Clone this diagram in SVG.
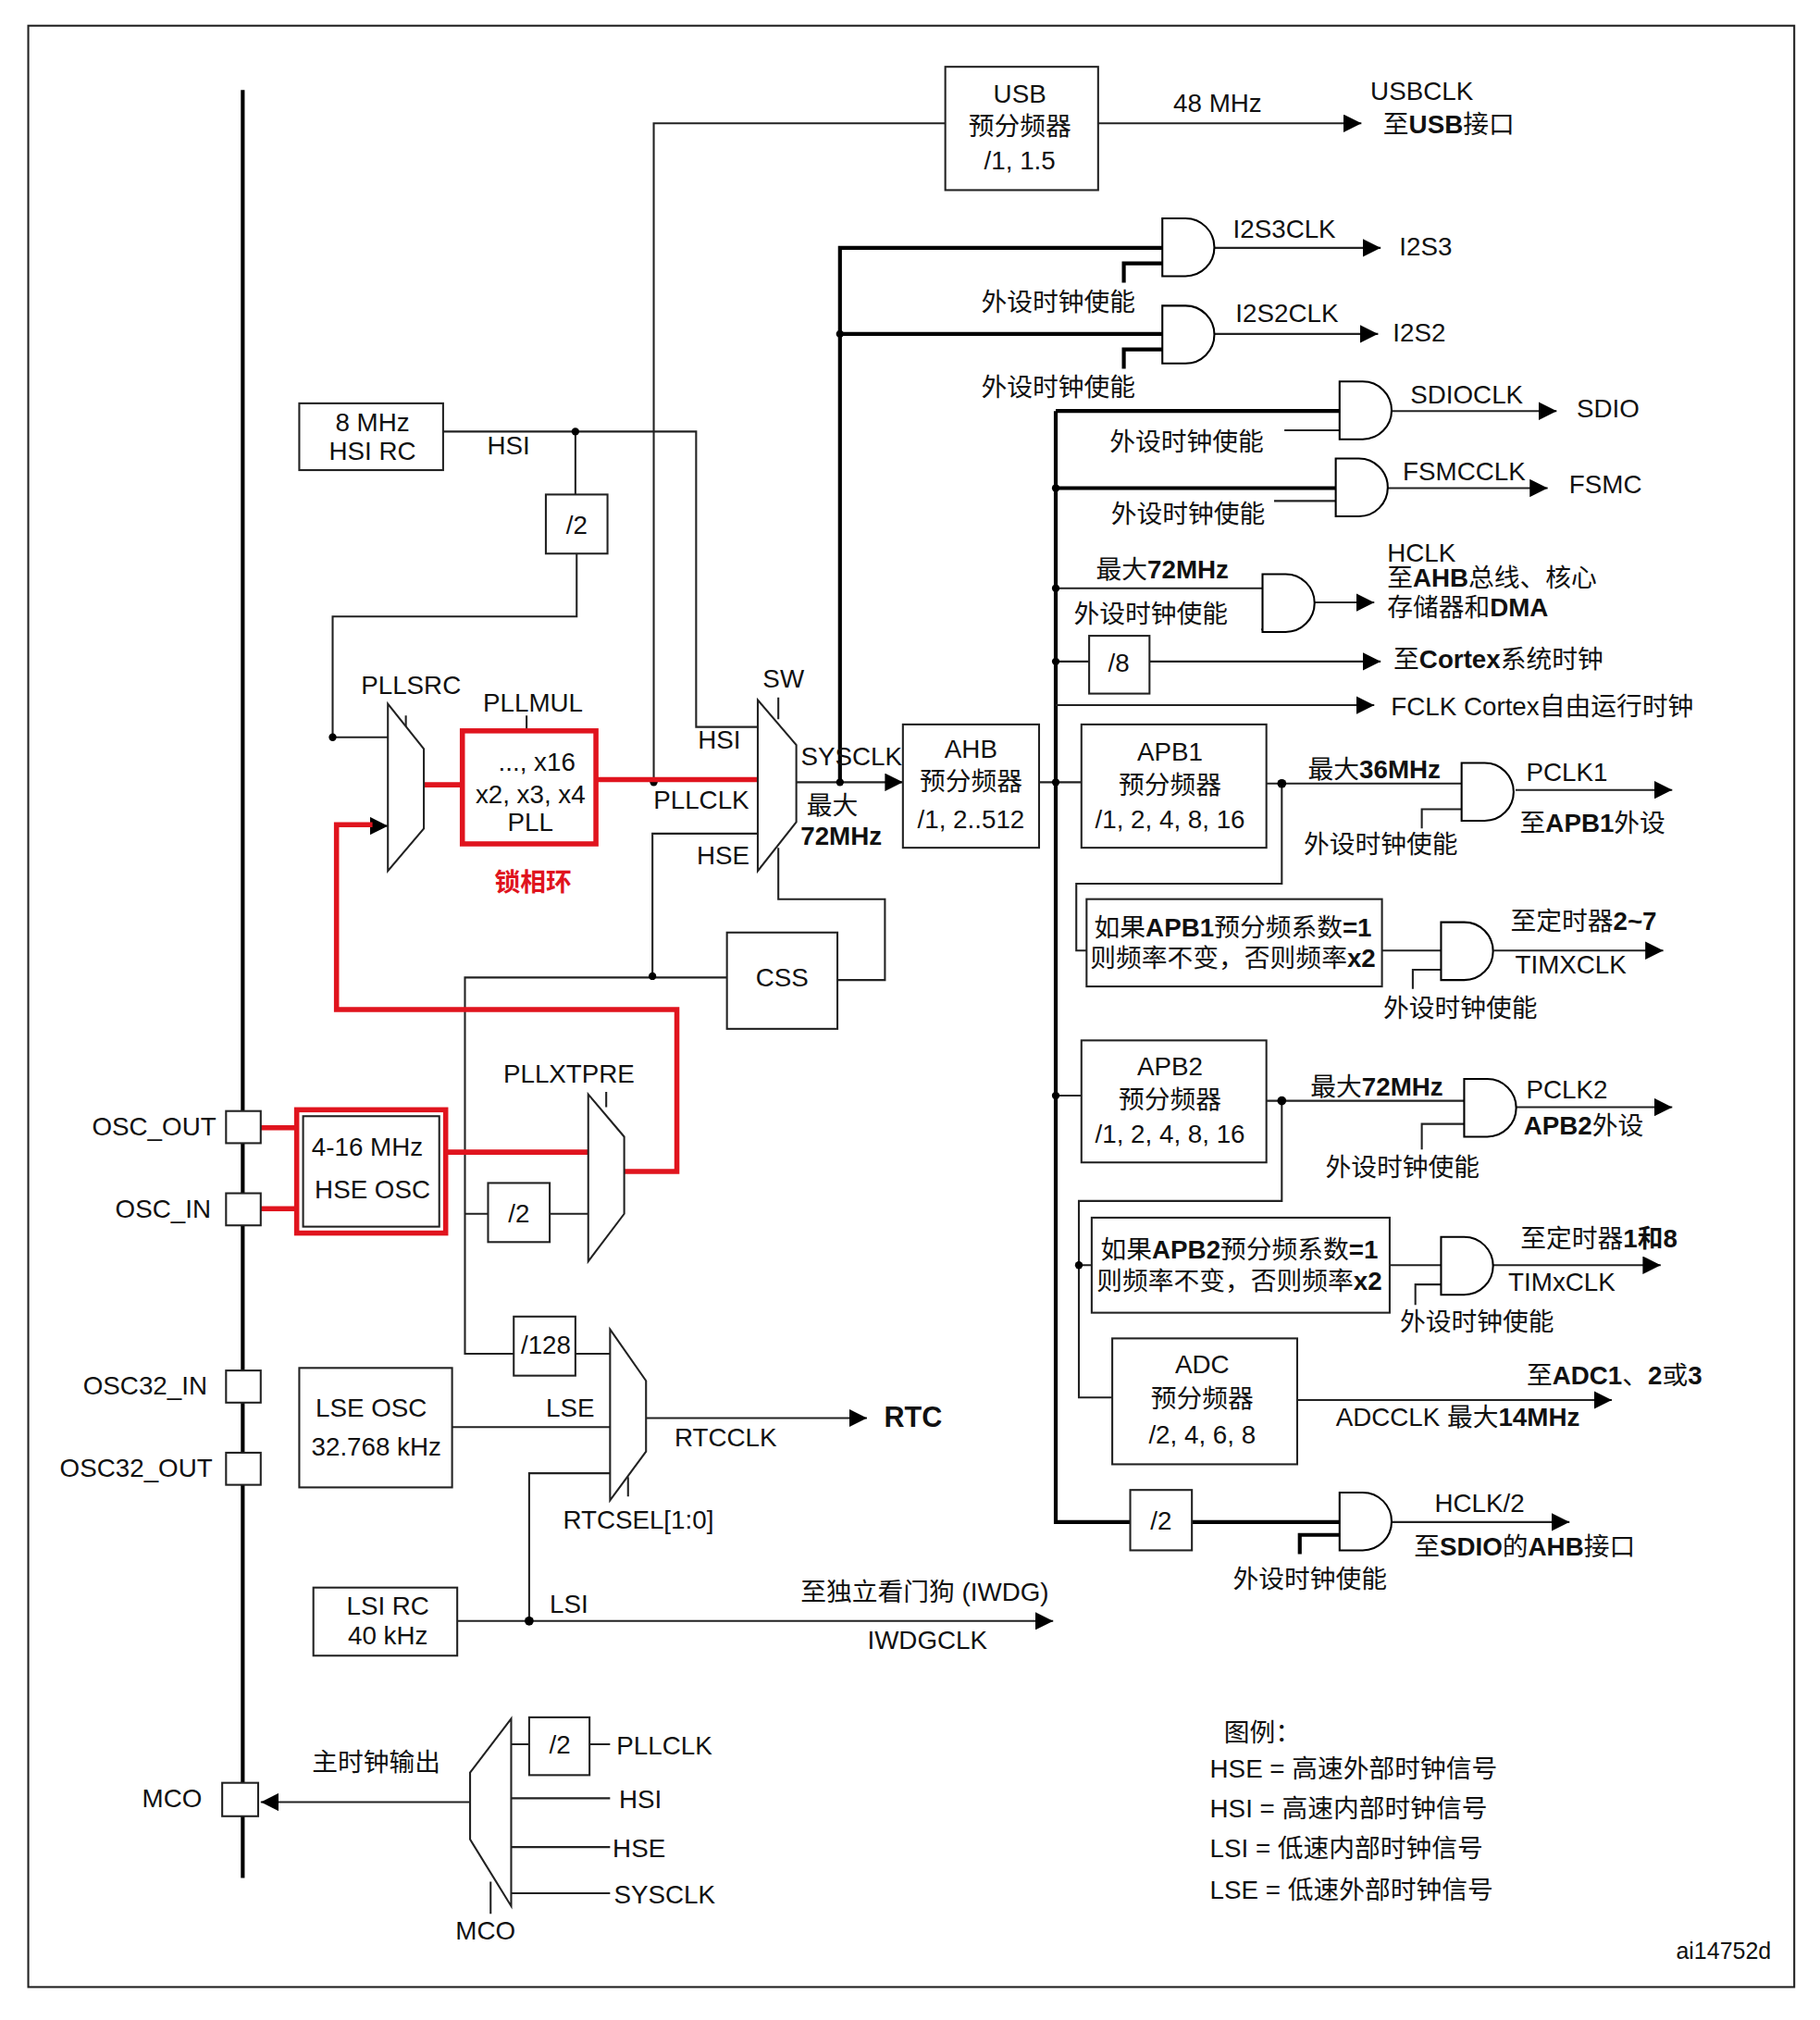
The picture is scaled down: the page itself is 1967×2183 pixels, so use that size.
<svg xmlns="http://www.w3.org/2000/svg" width="1967" height="2183" viewBox="0 0 1967 2183">
<defs>
<marker id="ar" viewBox="0 0 10 10" refX="10" refY="5" markerWidth="14" markerHeight="14" markerUnits="userSpaceOnUse" orient="auto"><path d="M0,0 L10,5 L0,10 z" fill="#000"/></marker>
<path id="and" d="M0,0 H18 A22.5 22.5 0 0 1 18,45 H0 Z" fill="#fff" stroke="#000" stroke-width="1.5"/>
</defs>
<style>
text{font-family:"Liberation Sans","Noto Sans CJK SC",sans-serif;font-size:20px;fill:#111;text-anchor:middle}
.l{text-anchor:start}
.b{font-weight:bold}
.w{fill:none;stroke:#222;stroke-width:1.5}
.t{fill:none;stroke:#000;stroke-width:3}
.bx{fill:#fff;stroke:#222;stroke-width:1.5}
.r{fill:none;stroke:#e0141e;stroke-width:4}
.a{marker-end:url(#ar)}
</style>
<rect width="1967" height="2183" fill="#fff"/>
<g transform="scale(1.3881)">
<rect x="22" y="20" width="1375" height="1527" class="w" stroke-width="2"/>
<g id="connectors">
<line x1="189" y1="70" x2="189" y2="1462" class="t"/>
<path class="w" d="M509,609 V96 H736"/>
<path class="w a" d="M855,96 H1060"/>
<path class="t" d="M654,609 V193 H905 M654,260 H905"/>
<path class="w a" d="M945,193 H1075"/><path class="w a" d="M945,260 H1073"/>
<path class="t" d="M875,220 V205 H905 M875,287 V272 H905"/>
<path class="t" d="M822,320 V1185 H880 M822,320 H1043 M822,380 H1040"/>
<path class="w" d="M1000,335 H1043 M992,390 H1040 M822,458 H983 M982,490 H983"/>
<path class="w a" d="M1083,320 H1212"/><path class="w a" d="M1080,380 H1205"/><path class="w a" d="M1023,469 H1070"/><path class="w a" d="M895,515 H1075"/><path class="w a" d="M822,549 H1070"/>
<path class="w" d="M822,515 H848 M809,609 H842 M986,610 H1138 M998,610 V688 H838 V740 H846 M1076,740 H1122 M822,853 H842 M986,857 H1140 M998,857 V935 H840 V1088 H866 M840,985 H850 M1082,985 H1122"/>
<path class="w a" d="M1180,615 H1302"/><path class="w a" d="M1163,740 H1295"/><path class="w a" d="M1180,862 H1302"/><path class="w a" d="M1162,985 H1293"/><path class="w a" d="M1010,1090 H1255"/><path class="w a" d="M1083,1185 H1222"/><path class="w a" d="M590,609 H703"/>
<path class="t" d="M928,1185 H1043 M1012,1210 V1195 H1043"/>
<path class="w" d="M1107,645 V630 H1138 M1100,770 V755 H1122 M1107,895 V875 H1140 M1102,1016 V1000 H1122"/>
<path class="w" d="M345,336 H542 V566 H590 M448,336 V385 M449,431 V480 H259 V574 H302 M316,557 V575 M410,557 V569 M606,543 V560"/>
<path class="w" d="M508,760 V649 H590 M606,660 V700 H689 V763 H652 M566,761 H362 V1054 H400 M362,945 H380 M428,945 H458 M472,850 V862"/>
<path class="w a" d="M262,643 H302"/>
<path class="w" d="M448,1054 H475 M352,1111 H475 M412,1262 V1147 H475 M489,1150 V1165"/>
<path class="w a" d="M503,1104 H675"/><path class="w a" d="M356,1262 H820"/><path class="w a" d="M366,1403 H203"/>
<path class="w" d="M398,1358 H412 M459,1358 H475 M398,1400 H475 M398,1438 H475 M398,1474 H475 M382,1465 V1490"/>
<g fill="#000"><circle cx="448" cy="336" r="3"/><circle cx="259" cy="574" r="3"/><circle cx="509" cy="609" r="3"/><circle cx="654" cy="609" r="3"/><circle cx="654" cy="260" r="3"/><circle cx="822" cy="380" r="3"/><circle cx="822" cy="458" r="3"/><circle cx="822" cy="515" r="3"/><circle cx="822" cy="609" r="3"/><circle cx="998" cy="610" r="3.5"/><circle cx="822" cy="853" r="3"/><circle cx="998" cy="857" r="3.5"/><circle cx="840" cy="985" r="3"/><circle cx="508" cy="760" r="3"/><circle cx="412" cy="1262" r="3.5"/></g>
<path class="r" d="M330,611 H360 M464,607 H590 M200,878 H231 M200,941 H231 M347,897 H458 M486,912 H527 V786 H262 V642 H290"/>
</g>
<g id="usb"><rect x="736" y="52" width="119" height="96" class="bx"/><text x="794" y="80">USB</text><text x="794" y="105">预分频器</text><text x="794" y="132">/1, 1.5</text></g>
<g id="labels">
<text x="948" y="87">48 MHz</text><text x="1107" y="78">USBCLK</text><text x="1128" y="104">至<tspan class="b">USB</tspan>接口</text>
<text x="1000" y="185">I2S3CLK</text><text x="1110" y="199">I2S3</text><text x="824" y="242">外设时钟使能</text>
<text x="1002" y="251">I2S2CLK</text><text x="1105" y="266">I2S2</text><text x="824" y="308">外设时钟使能</text>
<text x="1142" y="314">SDIOCLK</text><text x="1252" y="325">SDIO</text><text x="924" y="351">外设时钟使能</text>
<text x="1140" y="374">FSMCCLK</text><text x="1250" y="384">FSMC</text><text x="925" y="407">外设时钟使能</text>
<text x="905" y="450">最大<tspan class="b">72MHz</tspan></text><text x="896" y="485">外设时钟使能</text>
<text x="1080" y="437" class="l">HCLK</text><text x="1080" y="457" class="l">至<tspan class="b">AHB</tspan>总线、核心</text><text x="1080" y="480" class="l">存储器和<tspan class="b">DMA</tspan></text>
<text x="1085" y="520" class="l">至<tspan class="b">Cortex</tspan>系统时钟</text><text x="1083" y="557" class="l">FCLK Cortex自由运行时钟</text>
<text x="1070" y="606">最大<tspan class="b">36MHz</tspan></text><text x="1220" y="608">PCLK1</text><text x="1240" y="648">至<tspan class="b">APB1</tspan>外设</text><text x="1075" y="664">外设时钟使能</text>
<text x="1233" y="724">至定时器<tspan class="b">2~7</tspan></text><text x="1223" y="758">TIMXCLK</text><text x="1137" y="792">外设时钟使能</text>
<text x="1072" y="853">最大<tspan class="b">72MHz</tspan></text><text x="1220" y="855">PCLK2</text><text x="1233" y="883"><tspan class="b">APB2</tspan>外设</text><text x="1092" y="916">外设时钟使能</text>
<text x="1245" y="971">至定时器<tspan class="b">1和8</tspan></text><text x="1216" y="1005">TIMxCLK</text><text x="1150" y="1036">外设时钟使能</text>
<text x="1257" y="1078">至<tspan class="b">ADC1</tspan>、<tspan class="b">2</tspan>或<tspan class="b">3</tspan></text><text x="1135" y="1110">ADCCLK  最大<tspan class="b">14MHz</tspan></text>
<text x="1152" y="1177">HCLK/2</text><text x="1187" y="1211">至<tspan class="b">SDIO</tspan>的<tspan class="b">AHB</tspan>接口</text><text x="1020" y="1236">外设时钟使能</text>
<text x="396" y="354">HSI</text><text x="560" y="583">HSI</text><text x="546" y="630">PLLCLK</text><text x="563" y="673">HSE</text>
<text x="320" y="540">PLLSRC</text><text x="415" y="554">PLLMUL</text><text x="610" y="535">SW</text>
<text x="663" y="596">SYSCLK</text><text x="648" y="634">最大</text><text x="655" y="658" class="b">72MHz</text>
<text x="415" y="694" class="b" style="fill:#e0141e">锁相环</text>
<text x="443" y="843">PLLXTPRE</text>
<text x="120" y="884">OSC_OUT</text><text x="127" y="948">OSC_IN</text>
<text x="113" y="1086">OSC32_IN</text><text x="106" y="1150">OSC32_OUT</text>
<text x="444" y="1103">LSE</text><text x="565" y="1126">RTCCLK</text><text x="711" y="1111" class="b" style="font-size:22px">RTC</text><text x="497" y="1190">RTCSEL[1:0]</text>
<text x="443" y="1256">LSI</text><text x="720" y="1246">至独立看门狗  (IWDG)</text><text x="722" y="1284">IWDGCLK</text>
<text x="134" y="1407">MCO</text><text x="293" y="1379">主时钟输出</text><text x="378" y="1510">MCO</text>
<text x="480" y="1366" class="l">PLLCLK</text><text x="482" y="1408" class="l">HSI</text><text x="477" y="1446" class="l">HSE</text><text x="478" y="1482" class="l">SYSCLK</text>
<text x="953" y="1356" class="l">图例：</text><text x="942" y="1384" class="l">HSE =  高速外部时钟信号</text><text x="942" y="1415" class="l">HSI =  高速内部时钟信号</text><text x="942" y="1446" class="l">LSI =  低速内部时钟信号</text><text x="942" y="1478" class="l">LSE =  低速外部时钟信号</text>
<text x="1342" y="1525" style="font-size:18px">ai14752d</text>
</g>
<g id="gates">
<use href="#and" x="905" y="170"/><use href="#and" x="905" y="238"/><use href="#and" x="1043" y="297"/><use href="#and" x="1040" y="357"/><use href="#and" x="983" y="447"/><use href="#and" x="1138" y="594"/><use href="#and" x="1122" y="718"/><use href="#and" x="1140" y="840"/><use href="#and" x="1122" y="963"/><use href="#and" x="1043" y="1162"/>
</g>
<g id="div8"><rect x="848" y="495" width="47" height="45" class="bx"/><text x="871" y="523">/8</text></g>
<g id="ahb"><rect x="703" y="564" width="106" height="96" class="bx"/><text x="756" y="590">AHB</text><text x="756" y="615">预分频器</text><text x="756" y="645">/1, 2..512</text></g>
<g id="apb1"><rect x="842" y="564" width="144" height="96" class="bx"/><text x="911" y="592">APB1</text><text x="911" y="618">预分频器</text><text x="911" y="645">/1, 2, 4, 8, 16</text></g>
<g id="tim1"><rect x="846" y="700" width="230" height="68" class="bx"/><text x="960" y="729"><tspan>如果</tspan><tspan class="b">APB1</tspan>预分频系数<tspan class="b">=1</tspan></text><text x="960" y="753">则频率不变，否则频率<tspan class="b">x2</tspan></text></g>
<g id="apb2"><rect x="842" y="810" width="144" height="95" class="bx"/><text x="911" y="837">APB2</text><text x="911" y="863">预分频器</text><text x="911" y="890">/1, 2, 4, 8, 16</text></g>
<g id="tim2"><rect x="850" y="948" width="232" height="74" class="bx"/><text x="965" y="980">如果<tspan class="b">APB2</tspan>预分频系数<tspan class="b">=1</tspan></text><text x="965" y="1004">则频率不变，否则频率<tspan class="b">x2</tspan></text></g>
<g id="adc"><rect x="866" y="1042" width="144" height="98" class="bx"/><text x="936" y="1069">ADC</text><text x="936" y="1096">预分频器</text><text x="936" y="1124">/2, 4, 6, 8</text></g>
<g id="div2b"><rect x="880" y="1160" width="48" height="47" class="bx"/><text x="904" y="1191">/2</text></g>
<g id="hsirc"><rect x="233" y="314" width="112" height="52" class="bx"/><text x="290" y="336">8 MHz</text><text x="290" y="358">HSI RC</text></g>
<g id="div2a"><rect x="425" y="385" width="48" height="46" class="bx"/><text x="449" y="416">/2</text></g>
<g id="pllsrc"><path d="M302,548 L330,583 V645 L302,678 Z" class="bx"/></g>
<g id="pll"><rect x="360" y="569" width="104" height="88" class="r" style="fill:#fff"/><text x="418" y="600">..., x16</text><text x="413" y="625">x2, x3, x4</text><text x="413" y="647">PLL</text></g>
<g id="sw"><path d="M590,545 L620,580 V640 L590,678 Z" class="bx"/></g>
<g id="css"><rect x="566" y="726" width="86" height="75" class="bx"/><text x="609" y="768">CSS</text></g>
<g id="hse"><rect x="231" y="864" width="116" height="96" class="r"/><rect x="236" y="869" width="106" height="86" class="bx"/><text x="286" y="900">4-16 MHz</text><text x="290" y="933">HSE OSC</text></g>
<g id="pins"><rect x="176" y="865" width="27" height="25" class="bx"/><rect x="176" y="929" width="27" height="25" class="bx"/><rect x="176" y="1067" width="27" height="25" class="bx"/><rect x="176" y="1131" width="27" height="25" class="bx"/><rect x="173" y="1388" width="28" height="26" class="bx"/></g>
<g id="div2c"><rect x="380" y="921" width="48" height="46" class="bx"/><text x="404" y="952">/2</text></g>
<g id="pllxtpre"><path d="M458,852 L486,885 V945 L458,982 Z" class="bx"/></g>
<g id="div128"><rect x="400" y="1025" width="48" height="46" class="bx"/><text x="425" y="1054">/128</text></g>
<g id="rtcmux"><path d="M475,1035 L503,1075 V1130 L475,1168 Z" class="bx"/></g>
<g id="lse"><rect x="233" y="1065" width="119" height="93" class="bx"/><text x="289" y="1103">LSE OSC</text><text x="293" y="1133">32.768 kHz</text></g>
<g id="lsi"><rect x="244" y="1236" width="112" height="53" class="bx"/><text x="302" y="1257">LSI RC</text><text x="302" y="1280">40 kHz</text></g>
<g id="mcomux"><path d="M398,1338 L366,1380 V1432 L398,1484 Z" class="bx"/></g>
<g id="div2d"><rect x="412" y="1337" width="47" height="45" class="bx"/><text x="436" y="1365">/2</text></g>
</g>
</svg>
